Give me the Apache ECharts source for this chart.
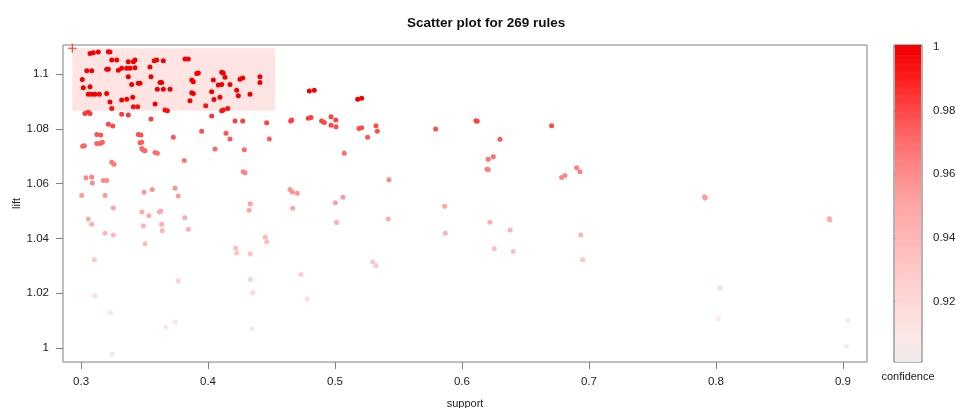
<!DOCTYPE html>
<html>
<head>
<meta charset="utf-8">
<title>Scatter plot for 269 rules</title>
<script src="https://cdn.jsdelivr.net/npm/echarts@6/dist/echarts.min.js"></script>
<style>
  html, body { margin: 0; background: #fff; }
  #chart { width: 956px; height: 408px; }
</style>
</head>
<body>
<div id="chart"></div>
<script>
// rules as [support, lift, confidence]
const rulesTop = [
  [0.3071,1.1076,1],[0.3097,1.1079,1],[0.3136,1.1081,1],[0.3215,1.1082,1],[0.3228,1.1081,1],
  [0.3242,1.1052,1],[0.3281,1.1052,1],[0.3372,1.1046,1],[0.3425,1.1052,1],[0.3412,1.1046,1],
  [0.3577,1.1049,1],[0.3596,1.1052,1],[0.3648,1.1049,1],[0.3819,1.1056,1],[0.3845,1.1056,1],
  [0.3202,1.1018,1],[0.3215,1.1018,1],[0.3294,1.1015,1],[0.3320,1.1022,1],[0.3360,1.1022,1],
  [0.3386,1.1022,1],[0.3045,1.1013,1],[0.3084,1.1013,1],[0.3425,1.1024,1],[0.3543,1.1027,1],
  [0.3911,1.1003,1],[0.3924,1.1005,1],[0.4108,1.1007,1],[0.4120,1.1005,1],[0.4409,1.0991,1],
  [0.4409,1.0970,1],[0.3010,1.0981,1],[0.3372,1.0991,1],[0.3551,1.0991,1],[0.4134,1.0989,1],
  [0.4252,1.0982,1],[0.4273,1.0986,1],[0.3872,1.0979,1],[0.3884,1.0973,1],[0.4042,1.0979,1],
  [0.3622,1.0970,1],[0.3635,1.0970,1],[0.3451,1.0967,1],[0.3465,1.0967,1],[0.3399,1.0963,1],
  [0.4081,1.0961,1],[0.4108,1.0963,1],[0.4173,1.0963,1],[0.3018,1.0951,1],[0.3071,1.0954,1],
  [0.3601,1.0945,1],[0.3648,1.0945,1],[0.3701,1.0945,1],[0.4226,1.0942,1],[0.4029,1.0936,1],
  [0.3057,1.0927,1],[0.3084,1.0927,1],[0.3110,1.0927,1],[0.3144,1.0927,1],[0.3202,1.0930,1],
  [0.3872,1.0932,1],[0.3884,1.0930,1],[0.4239,1.0921,1],[0.4331,1.0927,1],[0.4094,1.0916,1],
  [0.3407,1.0916,1],[0.3320,1.0906,1],[0.3360,1.0909,1],[0.3228,1.0899,1],[0.4047,1.0908,1],
  [0.3858,1.0903,1],[0.3583,1.0891,1],[0.3412,1.0881,0.995],[0.3446,1.0881,0.995],[0.3242,1.0875,0.995],
  [0.3982,1.0885,0.995],[0.4155,1.0875,0.995],[0.4108,1.0867,0.995],[0.4120,1.0869,0.995],[0.3661,1.0869,0.995],
  [0.3680,1.0867,0.995],[0.4798,1.0939,1],[0.4837,1.0942,1],[0.5179,1.0909,1],[0.5210,1.0912,1]
]

const rulesMid = [
  [0.3031,1.0857,0.985],[0.3057,1.0861,0.985],[0.3071,1.0857,0.985],[0.3320,1.0854,0.985],[0.3372,1.0851,0.985],
  [0.4029,1.0847,0.985],[0.3551,1.0836,0.983],[0.4213,1.0829,0.983],[0.4273,1.0829,0.983],[0.4462,1.0823,0.982],
  [0.4651,1.0829,0.983],[0.4659,1.0833,0.983],[0.3215,1.0817,0.981],[0.3250,1.0811,0.981],[0.3950,1.0792,0.979],
  [0.4142,1.0784,0.978],[0.3124,1.0780,0.978],[0.3155,1.0778,0.978],[0.3451,1.0780,0.978],[0.3472,1.0778,0.978],
  [0.3727,1.0770,0.977],[0.4173,1.0763,0.976],[0.4483,1.0763,0.976],
  [0.4790,1.0839,0.983],[0.4811,1.0842,0.983],[0.4895,1.0829,0.982],[0.4916,1.0824,0.982],[0.4969,1.0845,0.983],
  [0.5006,1.0833,0.982],[0.4969,1.0814,0.981],[0.5008,1.0808,0.980],[0.5189,1.0802,0.980],[0.5210,1.0804,0.980],
  [0.5323,1.0812,0.980],[0.5333,1.0792,0.979],[0.5257,1.0770,0.977],[0.5793,1.0800,0.979],[0.6110,1.0830,0.982],
  [0.6120,1.0828,0.982],[0.6299,1.0762,0.976],[0.6247,1.0698,0.970],[0.6207,1.0689,0.969],[0.6706,1.0812,0.981],
  [0.5073,1.0711,0.971],
  [0.3013,1.0737,0.973],[0.3026,1.0739,0.973],[0.3124,1.0747,0.974],[0.3150,1.0747,0.974],[0.3168,1.0751,0.975],
  [0.3478,1.0751,0.975],[0.3465,1.0750,0.975],[0.3478,1.0729,0.972],[0.3491,1.0723,0.972],[0.3504,1.0720,0.972],
  [0.3583,1.0714,0.971],[0.3601,1.0711,0.971],[0.4055,1.0727,0.972],[0.4286,1.0724,0.972],[0.3813,1.0685,0.968],
  [0.3242,1.0678,0.967],[0.3260,1.0671,0.967],[0.4278,1.0644,0.964],[0.4291,1.0640,0.964],[0.3039,1.0622,0.962],
  [0.3084,1.0624,0.962],[0.3089,1.0602,0.960],[0.3176,1.0612,0.961],[0.3202,1.0612,0.961],
  [0.6197,1.0653,0.965],[0.6207,1.0652,0.965],[0.6903,1.0658,0.966],[0.6929,1.0644,0.964],[0.6785,1.0623,0.962],
  [0.6811,1.0630,0.963],[0.5425,1.0614,0.961]
]

const rulesLow = [
  [0.3006,1.0557,0.955],[0.3189,1.0557,0.955],[0.3496,1.0569,0.957],[0.3561,1.0579,0.958],[0.3740,1.0583,0.958],
  [0.3766,1.0555,0.955],[0.4646,1.0579,0.958],[0.4664,1.0570,0.957],[0.4703,1.0565,0.956],[0.4333,1.0527,0.952],
  [0.4323,1.0503,0.950],[0.4667,1.0510,0.951],[0.3254,1.0511,0.951],[0.3480,1.0496,0.949],[0.3535,1.0483,0.948],
  [0.3617,1.0496,0.949],[0.3628,1.0500,0.950],[0.3817,1.0475,0.947],[0.3057,1.0471,0.947],[0.3084,1.0452,0.945],
  [0.3491,1.0445,0.944],[0.3635,1.0452,0.945],[0.3640,1.0428,0.942],[0.3845,1.0433,0.943],[0.3189,1.0419,0.941],
  [0.3254,1.0412,0.940],[0.4451,1.0404,0.940],[0.4462,1.0388,0.938],[0.3504,1.0380,0.937],[0.4218,1.0365,0.936],
  [0.4226,1.0347,0.934],[0.4333,1.0343,0.934],[0.3105,1.0322,0.932],
  [0.3110,1.0190,0.918],[0.3234,1.0127,0.912],[0.3766,1.0244,0.924],[0.3667,1.0075,0.907],[0.3740,1.0094,0.909],
  [0.3242,0.9976,0.900],[0.4333,1.0250,0.925],[0.4352,1.0201,0.920],[0.4344,1.0069,0.907],
  [0.5002,1.0530,0.953],[0.5063,1.0550,0.955],[0.5013,1.0458,0.946],[0.5420,1.0471,0.947],[0.5864,1.0517,0.951],
  [0.5869,1.0419,0.941],[0.6220,1.0459,0.946],[0.6380,1.0431,0.943],[0.6254,1.0362,0.936],[0.6404,1.0352,0.935],
  [0.6935,1.0412,0.941],[0.5297,1.0314,0.931],[0.5323,1.0301,0.930],[0.4732,1.0268,0.927],[0.4782,1.0178,0.917],
  [0.7916,1.0548,0.954],[0.7910,1.0552,0.954],[0.8898,1.0467,0.946],[0.8893,1.0472,0.946],[0.6950,1.0322,0.932],
  [0.8031,1.0219,0.921],[0.8018,1.0106,0.910],[0.9042,1.0101,0.909],[0.9029,1.0006,0.901]
]

const xTicks = [0.3, 0.4, 0.5, 0.6, 0.7, 0.8, 0.9]
const yTicks = [1, 1.02, 1.04, 1.06, 1.08, 1.1]
const confTicks = [0.92, 0.94, 0.96, 0.98, 1]
// colour key steps
const confBands = [0.9009, 0.9025, 0.905, 0.9075, 0.91, 0.9125, 0.915, 0.9175, 0.92, 0.9225,
  0.925, 0.9275, 0.93, 0.9325, 0.935, 0.9375, 0.94, 0.9425, 0.945, 0.9475, 0.95,
  0.9525, 0.955, 0.9575, 0.96, 0.9625, 0.965, 0.9675, 0.97, 0.9725, 0.975,
  0.9775, 0.98, 0.9825, 0.985, 0.9875, 0.99, 0.9925, 0.995, 0.9975, 1.0007]
const confColors = ['#ebebeb', '#fde6e6', '#ffd8d8', '#ffc8c8', '#ffb6b6', '#ffa6a6',
  '#ff8c8c', '#ff6e6e', '#ff4a4a', '#ff2020', '#f20000']
// selected region (corner marked with +)
const selBox = [[0.2931, 1.1095], [0.4528, 1.0867]]

const GRAY = '#808080'
const TXT = '#222'
const FONT = '"Liberation Sans", Arial, sans-serif'

let $ = s => document.querySelector(s)

const Chart = {
  init() {
    this.chart = echarts.init($('#chart'), null, { renderer: 'canvas' })
    this.render()
  },

  bandData() {
    let out = []
    for (let i = 0; i < confBands.length - 1; i++) {
      let lo = confBands[i], hi = confBands[i + 1]
      out.push([lo, hi, (lo + hi) / 2])
    }
    return out
  },

  render() {
    let rules = rulesTop.concat(rulesMid, rulesLow)
    let plus = 'path://M3.5,0h1v3.5h3.5v1h-3.5v3.5h-1v-3.5h-3.5v-1h3.5z'

    let option = {
      animation: false,
      textStyle: { fontFamily: FONT },
      title: {
        text: 'Scatter plot for 269 rules',
        left: 402, top: 11,
        textStyle: { fontSize: 13.5, fontWeight: 'bold', color: '#111', fontFamily: FONT }
      },
      grid: [
        { left: 63, top: 45, width: 804, height: 317, show: true, borderColor: GRAY, borderWidth: 1,
          containLabel: false, outerBoundsMode: 'none' },
        { left: 894, top: 45, width: 28, height: 317, show: true, borderColor: '#666', borderWidth: 1,
          containLabel: false, outerBoundsMode: 'none' }
      ],
      xAxis: [
        {
          type: 'value', gridIndex: 0, min: 0.2858, max: 0.919,
          name: 'support', nameLocation: 'middle', nameGap: 36, nameMoveOverlap: false,
          nameTextStyle: { color: TXT, fontSize: 11 },
          axisLine: { show: false }, splitLine: { show: false },
          axisTick: { show: true, length: 7, lineStyle: { color: GRAY }, customValues: xTicks },
          axisLabel: { customValues: xTicks, margin: 14, color: TXT, fontSize: 11.5 }
        },
        {
          type: 'value', gridIndex: 1, min: 0, max: 1,
          name: 'confidence', nameLocation: 'middle', nameGap: 9, nameMoveOverlap: false,
          nameTextStyle: { color: TXT, fontSize: 11 },
          axisLine: { show: false }, axisTick: { show: false },
          axisLabel: { show: false }, splitLine: { show: false }
        }
      ],
      yAxis: [
        {
          type: 'value', gridIndex: 0, min: 0.9948, max: 1.1107,
          name: 'lift', nameLocation: 'middle', nameGap: 41, nameMoveOverlap: false,
          nameTextStyle: { color: TXT, fontSize: 11 },
          axisLine: { show: false }, splitLine: { show: false },
          axisTick: { show: true, length: 7, lineStyle: { color: GRAY }, customValues: yTicks },
          axisLabel: { customValues: yTicks, margin: 14, color: TXT, fontSize: 11.5 }
        },
        {
          type: 'value', gridIndex: 1, position: 'right', min: 0.9009, max: 1.0007,
          axisLine: { show: false }, splitLine: { show: false },
          axisTick: { show: true, length: 8, lineStyle: { color: GRAY }, customValues: confTicks },
          axisLabel: { customValues: confTicks, margin: 11, color: TXT, fontSize: 11.5 }
        }
      ],
      visualMap: {
        type: 'continuous', show: false,
        min: 0.9, max: 1.0, dimension: 2,
        seriesIndex: [1, 2],
        inRange: { color: confColors }
      },
      series: [
        {
          // selection box + corner marker
          type: 'scatter', xAxisIndex: 0, yAxisIndex: 0, z: 1,
          data: [selBox[0]],
          symbol: plus, symbolSize: 9,
          itemStyle: { color: '#ff0000' },
          silent: true,
          markArea: {
            silent: true,
            itemStyle: { color: '#ffe4e4' },
            data: [[{ coord: selBox[0] }, { coord: selBox[1] }]]
          }
        },
        {
          name: 'rules', type: 'scatter', xAxisIndex: 0, yAxisIndex: 0, z: 3,
          data: rules,
          symbol: 'circle', symbolSize: 5,
          itemStyle: { opacity: 1 }
        },
        {
          type: 'custom', xAxisIndex: 1, yAxisIndex: 1, z: 1,
          data: this.bandData(),
          silent: true,
          renderItem(params, api) {
            let p0 = api.coord([0, api.value(1)])
            let p1 = api.coord([1, api.value(0)])
            let cs = params.coordSys
            let shape = echarts.graphic.clipRectByRect(
              { x: p0[0] + 1, y: p0[1], width: p1[0] - p0[0] - 2, height: p1[1] - p0[1] + 0.6 },
              { x: cs.x, y: cs.y, width: cs.width, height: cs.height }
            )
            return shape && { type: 'rect', shape: shape, style: { fill: api.visual('color') } }
          }
        }
      ]
    }
    this.chart.setOption(option)
  }
}

Chart.init()
</script>
</body>
</html>
